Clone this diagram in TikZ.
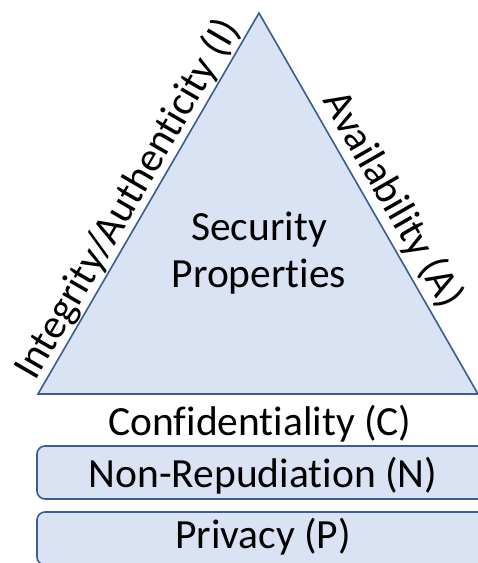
\documentclass[tikz,border=0pt]{standalone}
\usepackage{fontspec}
\setmainfont{Carlito}[Ligatures=NoCommon]
\definecolor{propfill}{HTML}{DAE3F3}
\definecolor{propline}{HTML}{3B5C95}

\begin{document}
\begin{tikzpicture}[x=1pt,y=-1pt]
\tikzstyle{every node}=[font=\fontsize{41.5}{47}\selectfont, inner sep=2pt]
\tikzstyle{box}=[draw=propline, fill=propfill, line width=1.6pt, rounded corners=8pt, minimum width=452pt, minimum height=53pt, text height=29pt, text depth=0pt]
\useasboundingbox (0,0) rectangle (478,563);
\coordinate (top) at (259,13);
\coordinate (bl) at (38,394);
\coordinate (br) at (478,394);
\draw[propline, fill=propfill, line width=1.6pt] (bl) -- (top) -- (br) -- cycle;
\path (bl) -- (top) node (integ) [pos=.485, above, sloped, inner sep=1pt] {Integrity/Authenticity (I)};
\path (top) -- (br) node (avail) [pos=.52, above, sloped, inner sep=4pt] {Availability (A)};
\node (sec) [align=center] at (259,253) {Security\\Properties};
\node (conf) [anchor=base] at (260,435) {Confidentiality (C)};
\node (nonrep) [box] at (263,472.5) {Non-Repudiation (N)};
\node (priv) [box, text height=19pt] at (263,538.5) {Privacy (P)};
\end{tikzpicture}
\end{document}
